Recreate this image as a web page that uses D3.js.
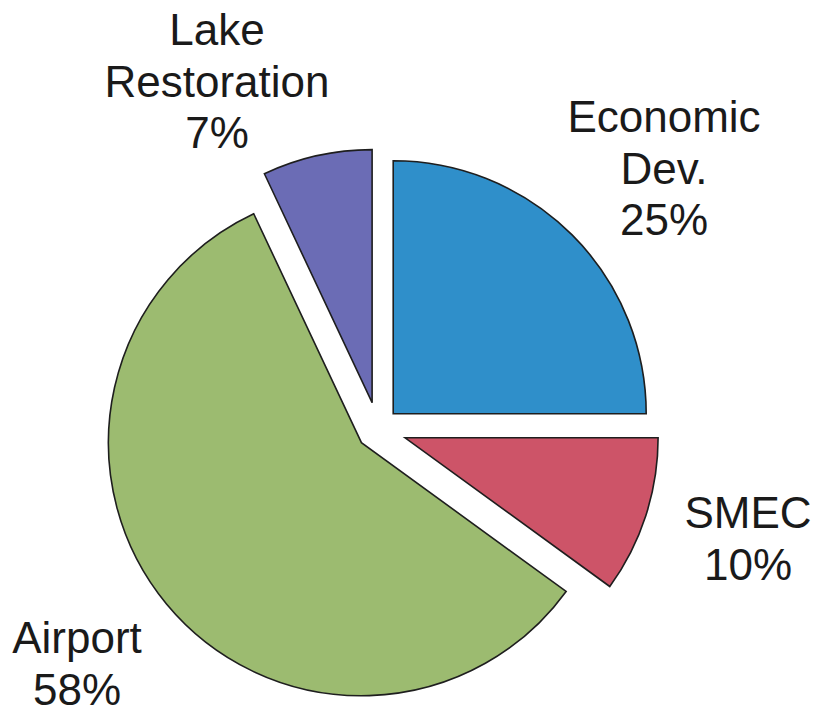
<!DOCTYPE html>
<html><head><meta charset="utf-8">
<script src="https://cdn.jsdelivr.net/npm/d3@7"></script>
<style>html,body{margin:0;padding:0;background:#fff;}svg{display:block;}</style>
</head><body>
<svg id="chart" width="815" height="706"></svg>
<script>
const categories = ["Economic Dev.", "SMEC", "Airport", "Lake Restoration"];
const values = [25, 10, 58, 7];
const labelLines = [["Economic", "Dev.", "25%"], ["SMEC", "10%"], ["Airport", "58%"], ["Lake", "Restoration", "7%"]];
const colors = ["#2f8fca", "#cd5468", "#9cbb70", "#6b6cb5"];

const svg = d3.select("#chart");
const cx = 378, cy = 429, R = 253;
const explode = [21.5, 28.5, 21.5, 27];
const labelPos = [[664, 132], [748, 528], [77, 653], [217, 45]];
const lineH = 51.5;

const pie = d3.pie().sort(null).value(d => d)(values);
const arc = d3.arc().innerRadius(0).outerRadius(R);

const g = svg.append("g").attr("transform", `translate(${cx},${cy})`);
g.selectAll("path").data(pie).join("path")
  .attr("d", arc)
  .attr("fill", (d, i) => colors[i])
  .attr("stroke", "#1e1e1e")
  .attr("stroke-width", 1.6)
  .attr("stroke-linejoin", "miter")
  .attr("transform", (d, i) => {
    const a = (d.startAngle + d.endAngle) / 2;
    return `translate(${explode[i] * Math.sin(a)},${-explode[i] * Math.cos(a)})`;
  });

categories.forEach((c, i) => {
  const t = svg.append("text")
    .attr("x", labelPos[i][0]).attr("y", labelPos[i][1])
    .attr("text-anchor", "middle")
    .attr("font-family", "Liberation Sans, Arial, sans-serif")
    .attr("font-size", 44)
    .attr("fill", "#1a1a1a");
  labelLines[i].forEach((ln, j) => {
    t.append("tspan").attr("x", labelPos[i][0]).attr("y", labelPos[i][1] + j * lineH).text(ln);
  });
});
</script>
</body></html>
